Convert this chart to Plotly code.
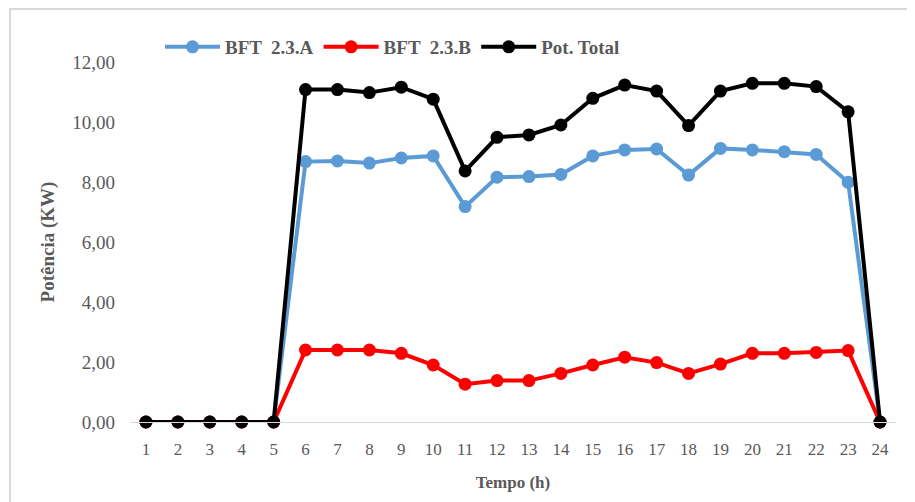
import plotly.graph_objects as go

hours = list(range(1, 25))
bft_a = [0, 0, 0, 0, 0, 8.68, 8.70, 8.63, 8.80, 8.87, 7.18, 8.16, 8.18, 8.25, 8.87,
         9.07, 9.10, 8.23, 9.12, 9.07, 9.01, 8.92, 7.99, 0]
bft_b = [0, 0, 0, 0, 0, 2.40, 2.40, 2.40, 2.29, 1.90, 1.26, 1.38, 1.38, 1.62, 1.90,
         2.16, 1.98, 1.62, 1.93, 2.29, 2.29, 2.32, 2.38, 0]
pot_total = [0, 0, 0, 0, 0, 11.08, 11.08, 10.98, 11.16, 10.76, 8.37, 9.49, 9.57, 9.90, 10.79,
             11.23, 11.03, 9.88, 11.03, 11.29, 11.29, 11.18, 10.34, 0]
series_names = ["BFT  2.3.A", "BFT  2.3.B", "Pot. Total"]
series_colors = ["#5b9bd5", "#ff0000", "#000000"]
y_ticks = [0, 2, 4, 6, 8, 10, 12]

FONT = "Liberation Serif, Times New Roman, serif"
GRAY = "#595959"

fig = go.Figure()
for name, vals, col in zip(series_names, [bft_a, bft_b, pot_total], series_colors):
    fig.add_trace(go.Scatter(
        x=hours, y=vals, name=name, mode="lines+markers",
        line=dict(color=col, width=4),
        marker=dict(color=col, size=13),
        cliponaxis=False,
    ))

OFF = 8  # page body offset
W, H = 915 - OFF, 502 - OFF
L, R, T, B = 130 - OFF, 19, 62 - OFF, 80
pw, ph = W - L - R, H - T - B

def px_x(sx):
    return (sx - OFF - L) / pw

def px_y(sy):
    return (H - B - (sy - OFF)) / ph

fig.update_layout(
    width=W, height=H,
    margin=dict(l=L, r=R, t=T, b=B),
    paper_bgcolor="white", plot_bgcolor="white",
    separators=",.",
    font=dict(family=FONT, size=17, color=GRAY),
    showlegend=True,
    legend=dict(orientation="h", x=px_x(160), y=px_y(47),
                xanchor="left", yanchor="middle",
                font=dict(family=FONT, size=19, color=GRAY, weight="bold"),
                itemwidth=55, tracegroupgap=0, bgcolor="rgba(0,0,0,0)"),
    xaxis=dict(range=[0.5, 24.5], tickmode="array", tickvals=hours,
               ticktext=[str(h) for h in hours],
               showgrid=False, zeroline=False, showline=True, linecolor="#d9d9d9",
               linewidth=1, ticks="", ticklabelstandoff=12,
               tickfont=dict(family=FONT, size=17, color=GRAY),
               title=dict(text="Tempo (h)", standoff=17,
                          font=dict(family=FONT, size=17, color=GRAY, weight="bold"))),
    yaxis=dict(range=[0, 12], tickmode="array", tickvals=y_ticks, tickformat=".2f",
               showgrid=False, zeroline=False, showline=False, ticks="",
               ticklabelstandoff=14,
               tickfont=dict(family=FONT, size=19, color=GRAY),
               title=dict(text="Potência (KW)", standoff=12,
                          font=dict(family=FONT, size=19, color=GRAY, weight="bold"))),
    shapes=[dict(type="rect", xref="paper", yref="paper",
                 x0=px_x(10), x1=px_x(940),
                 y0=px_y(530), y1=px_y(9),
                 line=dict(color="#d9d9d9", width=2), fillcolor="rgba(0,0,0,0)",
                 layer="below")],
)

fig.write_html("out.html")
